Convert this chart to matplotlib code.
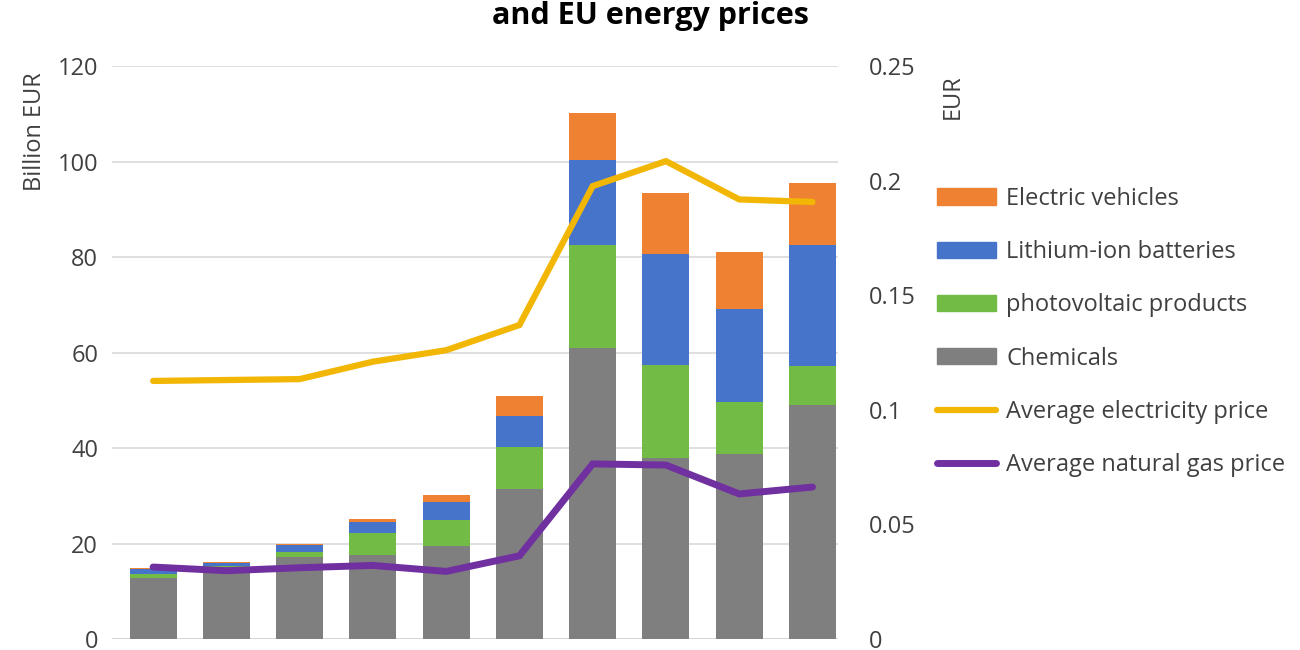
import numpy as np
import matplotlib.pyplot as plt
from matplotlib.patches import Patch
from matplotlib.lines import Line2D

plt.rcParams['font.family'] = ['Open Sans', 'DejaVu Sans']

# Values
years = np.arange(10)
chemicals = [12.8, 15.0, 17.2, 17.5, 19.5, 31.5, 60.9, 37.9, 38.7, 49.0]
photovoltaic = [0.9, 0.3, 1.0, 4.6, 5.5, 8.7, 21.7, 19.5, 10.9, 8.1]
batteries = [1.0, 0.6, 1.4, 2.5, 3.6, 6.5, 17.7, 23.3, 19.6, 25.5]
ev = [0.1, 0.2, 0.4, 0.5, 1.5, 4.3, 9.8, 12.8, 11.9, 13.0]
elec_price = [0.1126, 0.1130, 0.1134, 0.1210, 0.1260, 0.1370, 0.1976, 0.2085, 0.1918, 0.1907]
gas_price = [0.0314, 0.0298, 0.0311, 0.0321, 0.0295, 0.0363, 0.0764, 0.0759, 0.0633, 0.0663]

c_gray = '#7f7f7f'
c_green = '#72bb44'
c_blue = '#4674cb'
c_orange = '#ee8232'
c_yellow = '#f2b705'
c_purple = '#7030a0'

fs = 17

fig = plt.figure(figsize=(13, 6.5), dpi=100)
ax = fig.add_axes([0.0862, 0.0169, 0.5585, 0.8815])
ax2 = ax.twinx()

w = 0.64
bottom = np.zeros(10)
for vals, col in [(chemicals, c_gray), (photovoltaic, c_green),
                  (batteries, c_blue), (ev, c_orange)]:
    ax.bar(years, vals, w, bottom=bottom, color=col, zorder=2)
    bottom += np.array(vals)

ax2.plot(years, elec_price, color=c_yellow, lw=4.5, solid_capstyle='round',
         solid_joinstyle='miter', zorder=3)
ax2.plot(years, gas_price, color=c_purple, lw=5, solid_capstyle='round',
         solid_joinstyle='miter', zorder=3)

ax.set_xlim(-0.56, 9.35)
ax.set_ylim(0, 120)
ax.set_yticks(range(0, 121, 20))
ax2.set_ylim(0, 0.25)
ax2.set_yticks([0, 0.05, 0.1, 0.15, 0.2, 0.25])
ax2.set_yticklabels(['0', '0.05', '0.1', '0.15', '0.2', '0.25'])

ax.grid(axis='y', color='#d9d9d9', lw=1.2, zorder=0)
ax.set_xticks([])
for a in (ax, ax2):
    for s in a.spines.values():
        s.set_visible(False)
    a.tick_params(length=0, labelsize=fs, labelcolor='#404040')
ax.tick_params(axis='y', pad=10)
ax2.tick_params(axis='y', pad=22)
ax.axhline(0, color='#bfbfbf', lw=1.2, zorder=1)

fig.text(0.027, 0.797, 'Billion EUR', rotation=90, fontsize=fs, color='#404040',
         ha='center', va='center')
fig.text(0.733, 0.852, 'EUR', rotation=90, fontsize=fs, color='#404040',
         ha='center', va='center')
fig.text(0.5, 0.975, 'and EU energy prices', fontsize=22, fontweight='bold',
         ha='center', va='center', color='black')

handles = [Patch(color=c_orange), Patch(color=c_blue), Patch(color=c_green),
           Patch(color=c_gray),
           Line2D([], [], color=c_yellow, lw=4.5, solid_capstyle='round'),
           Line2D([], [], color=c_purple, lw=5, solid_capstyle='round')]
labels = ['Electric vehicles', 'Lithium-ion batteries', 'photovoltaic products',
          'Chemicals', 'Average electricity price', 'Average natural gas price']
fig.legend(handles, labels, loc='upper left', bbox_to_anchor=(0.7046, 0.7455),
           frameon=False, fontsize=fs, labelcolor='#404040',
           handlelength=2.5, handleheight=0.68, handletextpad=0.42,
           labelspacing=1.24)

fig.savefig('out.png', dpi=100)
